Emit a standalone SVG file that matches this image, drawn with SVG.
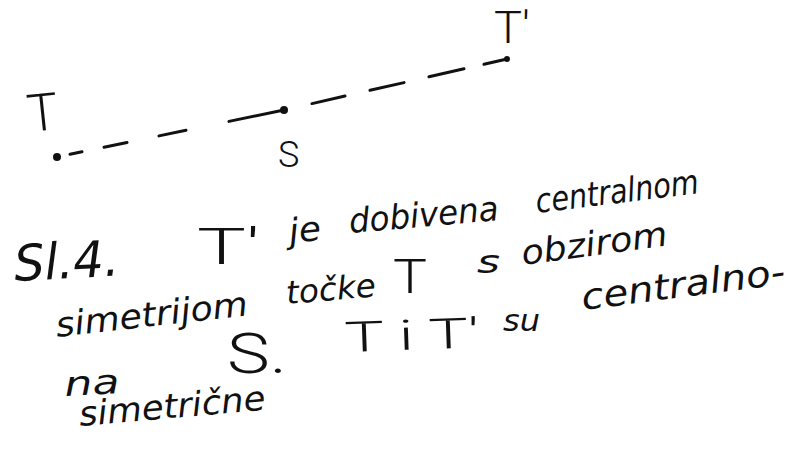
<svg xmlns="http://www.w3.org/2000/svg" width="795" height="454" viewBox="0 0 795 454">
<style>
.h{font-family:"DejaVu Sans","Liberation Sans",sans-serif;font-style:italic;fill:#111;}
.c{font-family:"Roboto","Lato","Liberation Sans",sans-serif;font-weight:300;fill:#111;}
.dash{fill:none;stroke:#111;stroke-width:3;stroke-linecap:round;}
</style>
<rect width="795" height="454" fill="#fff"/>
<g id="connectors">
<path class="dash" d="M70 154.3L82 151.8M104 147.3L127 142.5M159 135.9L186 130.3M229 121.4L284 110M312 103.6L345 96M370 90.3L404 82.6M429 76.8L464 68.8M484 64.3L507 59"/>
</g>
<g id="T">
<circle cx="57" cy="157" r="4" fill="#111"/>
<text class="c" font-size="52" x="29" y="132" transform="rotate(-6 29 132)">T</text>
</g>
<g id="S">
<circle cx="284" cy="110" r="4" fill="#111"/>
<text class="c" font-size="36" x="278" y="167">S</text>
</g>
<g id="T1">
<circle cx="507" cy="59" r="3" fill="#111"/>
<text class="c" font-size="44" x="494" y="43" textLength="36" lengthAdjust="spacingAndGlyphs">T'</text>
</g>
<g id="caption">
<text class="h" font-size="50" x="15" y="281" transform="rotate(-3 15 281)" textLength="105" lengthAdjust="spacingAndGlyphs">Sl.4.</text>
<text class="c" font-size="50" x="197" y="264" textLength="63" lengthAdjust="spacingAndGlyphs">T'</text>
<text class="h" font-size="34" x="290" y="243" transform="rotate(-6 290 243)" textLength="32" lengthAdjust="spacingAndGlyphs">je</text>
<text class="h" font-size="34" x="350" y="233" transform="rotate(-5 350 233)" textLength="150" lengthAdjust="spacingAndGlyphs">dobivena</text>
<text class="h" font-size="34" x="537" y="213" transform="rotate(-7 537 213)" textLength="164" lengthAdjust="spacingAndGlyphs">centralnom</text>
<text class="h" font-size="34" x="57" y="337" transform="rotate(-6.5 57 337)" textLength="193" lengthAdjust="spacingAndGlyphs">simetrijom</text>
<text class="h" font-size="32" x="287" y="304" transform="rotate(-5 287 304)" textLength="90" lengthAdjust="spacingAndGlyphs">točke</text>
<text class="c" font-size="48" x="393" y="293" textLength="34" lengthAdjust="spacingAndGlyphs">T</text>
<text class="h" font-size="32" x="477" y="273" textLength="23" lengthAdjust="spacingAndGlyphs">s</text>
<text class="h" font-size="34" x="523" y="265" transform="rotate(-7.7 523 265)" textLength="147" lengthAdjust="spacingAndGlyphs">obzirom</text>
<text class="h" font-size="34" x="65" y="396" transform="rotate(-3 65 396)" textLength="55" lengthAdjust="spacingAndGlyphs">na</text>
<text class="c" font-size="55" x="227" y="373" textLength="60" lengthAdjust="spacingAndGlyphs">S.</text>
<text class="c" font-size="42" x="345" y="352" transform="rotate(-2 345 352)" textLength="135" lengthAdjust="spacingAndGlyphs">T i T'</text>
<text class="h" font-size="30" x="503" y="331" textLength="37" lengthAdjust="spacingAndGlyphs">su</text>
<text class="h" font-size="36" x="583" y="310" transform="rotate(-7.4 583 310)" textLength="205" lengthAdjust="spacingAndGlyphs">centralno-</text>
<text class="h" font-size="34" x="80" y="426" transform="rotate(-5 80 426)" textLength="187" lengthAdjust="spacingAndGlyphs">simetrične</text>
</g>
</svg>
